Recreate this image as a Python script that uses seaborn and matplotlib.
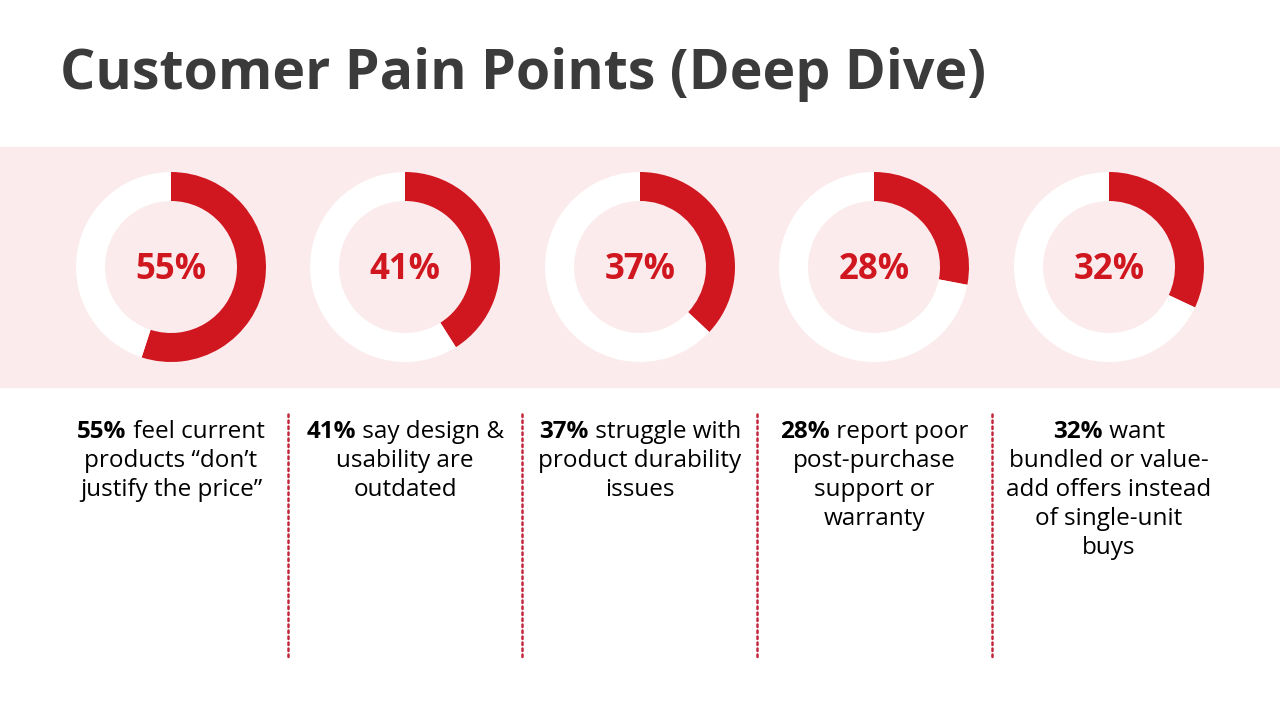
import matplotlib
matplotlib.use("Agg")
import matplotlib.pyplot as plt
import seaborn as sns

sns.set_theme(style="white")
FONT = ["Open Sans", "DejaVu Sans"]
plt.rcParams["font.family"] = FONT

# ---- data ----
title = "Customer Pain Points (Deep Dive)"
values = [55, 41, 37, 28, 32]
bold_prefix = ["55%", "41%", "37%", "28%", "32%"]
first_rest = [" feel current", " say design &", " struggle with", " report poor", " want"]
more_lines = [
    ["products \u201cdon\u2019t", "justify the price\u201d"],
    ["usability are", "outdated"],
    ["product durability", "issues"],
    ["post-purchase", "support or", "warranty"],
    ["bundled or value-", "add offers instead", "of single-unit", "buys"],
]

RED = "#D0161F"
BAND = "#FBEBEC"
TITLE_C = "#3B3B3B"
DOT_C = "#C2263A"

W, H = 1280, 720
fig = plt.figure(figsize=(12.8, 7.2), dpi=100)
fig.patch.set_facecolor("white")

bg = fig.add_axes([0, 0, 1, 1])
bg.set_xlim(0, W)
bg.set_ylim(H, 0)
bg.axis("off")
bg.axhspan(147, 387, color=BAND, zorder=0)

bg.text(60, 74, title, fontsize=40, fontweight="bold", color=TITLE_C,
        ha="left", va="center", family=FONT)

centers = [171, 405, 640, 874, 1109]
cy = 267
R = 95
ring = 29

for cx, v in zip(centers, values):
    ax = fig.add_axes([(cx - R) / W, (H - cy - R) / H, 2 * R / W, 2 * R / H])
    ax.pie([v, 100 - v], colors=[RED, "white"], startangle=90,
           counterclock=False, radius=1,
           wedgeprops=dict(width=ring / R, linewidth=0))
    ax.set_xlim(-1, 1)
    ax.set_ylim(-1, 1)
    ax.set_facecolor("none")
    ax.text(0, -0.03, f"{v}%", ha="center", va="center", fontsize=25,
            fontweight="bold", color=RED, family=FONT)

# separators
for x in [288, 522, 757, 992]:
    bg.plot([x, x], [414, 657], color=DOT_C, lw=1.8, linestyle=(0, (1, 1.4)),
            solid_capstyle="round", dash_capstyle="round")

fig.canvas.draw()
renderer = fig.canvas.get_renderer()

fs = 17.5
line_h = 29
y0 = 432
for cx, bp, fr, ml in zip(centers, bold_prefix, first_rest, more_lines):
    tb = bg.text(0, y0, bp, fontsize=fs, fontweight="bold", color="black",
                 ha="left", va="center", family=FONT)
    tr = bg.text(0, y0, fr, fontsize=fs, color="black",
                 ha="left", va="center", family=FONT)
    wb = tb.get_window_extent(renderer).width
    wr = tr.get_window_extent(renderer).width
    left = cx - (wb + wr) / 2
    tb.set_x(left)
    tr.set_x(left + wb)
    for i, ln in enumerate(ml):
        bg.text(cx, y0 + line_h * (i + 1), ln, fontsize=fs, color="black",
                ha="center", va="center", family=FONT)

fig.savefig("out.png", dpi=100, facecolor="white")
